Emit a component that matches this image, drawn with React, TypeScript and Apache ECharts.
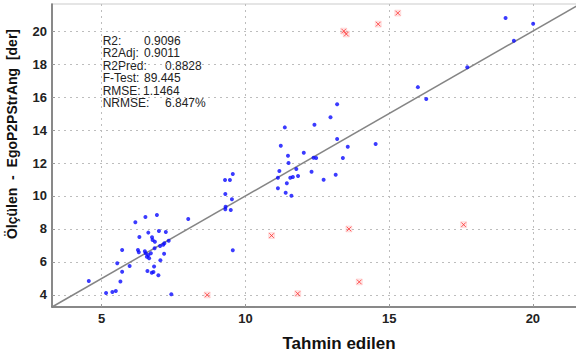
import React, { useEffect, useRef } from "react";
import * as echarts from "echarts";

// Fitted (blue) points: predicted (x) vs measured (y)
const blueX = [
  4.55, 5.15, 5.37, 5.49, 5.65, 5.71, 5.54, 5.71, 5.97, 6.17,
  6.52, 6.92, 6.31, 6.26, 6.29, 6.5, 6.62, 6.75, 6.77, 6.85,
  6.99, 7.23, 7.03, 7.14, 7.18, 7.33, 6.84, 6.71, 6.62, 6.57,
  6.65, 6.53, 7.17, 7.04, 6.82, 6.59, 6.74, 6.8, 6.97, 7.42,
  8.01, 9.29, 9.46, 9.56, 9.3, 9.53, 9.31, 9.3, 9.49, 9.56,
  11.18, 11.13, 11.44, 11.13, 11.4, 11.6, 11.5, 11.48, 11.23, 11.37,
  11.77, 11.56, 11.65, 11.83, 12.03, 12.37, 12.46, 12.3, 12.72, 12.4,
  12.96, 13.19, 13.19, 13.56, 13.39, 13.14, 14.53, 16.0, 16.29, 17.72,
  19.05, 19.34, 20.01,
];
const blueY = [
  4.85, 4.12, 4.18, 4.24, 4.81, 5.41, 5.92, 6.73, 5.76, 8.41,
  8.73, 8.85, 7.52, 6.73, 6.59, 6.65, 7.78, 7.5, 7.33, 7.23,
  7.88, 7.82, 6.97, 7.05, 7.13, 7.29, 6.83, 6.53, 6.42, 6.32,
  6.22, 6.53, 6.5, 6.1, 5.72, 5.45, 5.35, 5.39, 5.19, 4.04,
  8.61, 10.97, 10.97, 11.33, 10.12, 9.8, 9.35, 9.19, 9.15, 6.71,
  11.52, 11.11, 10.77, 10.47, 10.2, 10.02, 12.0, 12.44, 13.05, 14.16,
  11.64, 11.11, 11.15, 11.21, 12.62, 12.32, 12.3, 11.47, 10.99, 14.32,
  14.77, 15.56, 13.45, 12.99, 12.3, 11.29, 13.15, 16.6, 15.88, 17.8,
  20.79, 19.41, 20.44,
];

// Excluded (red) points
const redX = [15.3, 14.62, 13.42, 13.51, 10.91, 8.67, 11.82, 13.6, 17.59, 13.96];
const redY = [21.09, 20.42, 20.0, 19.82, 7.6, 4.0, 4.08, 8.0, 8.26, 4.79];

const xTicks = [5, 10, 15, 20];
const yTicks = [4, 6, 8, 10, 12, 14, 16, 18, 20];
const axisMin = 3.27;
const axisMax = 21.64;

const statLabels = ["R2:", "R2Adj:", "R2Pred:", "F-Test:", "RMSE:", "NRMSE:"];
const statValues = ["0.9096", "0.9011", "0.8828", "89.445", "1.1464", "6.847%"];
const statValueX = [144, 144, 165, 144, 143, 165];

const xTitle = "Tahmin edilen";
const yTitle = "Ölçülen  -  EgoP2PStrAng  [der]";

const FONT = "'Liberation Sans', Arial, sans-serif";

export default function App() {
  const ref = useRef<HTMLDivElement>(null);
  useEffect(() => {
    if (!ref.current) return;
    const chart = echarts.init(ref.current, null, { renderer: "svg" });
    const blue = blueX.map((x, i) => [x, blueY[i]]);
    const red = redX.map((x, i) => [x, redY[i]]);
    const axisCommon = (ticks: number[]) => ({
      type: "value" as const,
      min: axisMin,
      max: axisMax,
      axisLine: { show: true, onZero: false, lineStyle: { color: "#6a6a6a", width: 1.5 } },
      axisTick: { show: true, inside: true, length: 3, customValues: ticks, lineStyle: { color: "#999" } },
      axisLabel: {
        customValues: ticks,
        fontWeight: "bold",
        fontSize: 13,
        color: "#222",
        fontFamily: FONT,
        margin: 5,
      },
      splitLine: { show: true, lineStyle: { color: "#bdbdbd", width: 1, type: [2, 4] } },
    });
    const graphics: any[] = [];
    statLabels.forEach((l, i) => {
      const y = 40.7 + i * 12.5;
      graphics.push({
        type: "text",
        x: 102.7,
        y,
        style: { text: l, fontSize: 12, fontFamily: FONT, fill: "#222", verticalAlign: "middle" },
      });
      graphics.push({
        type: "text",
        x: statValueX[i],
        y,
        style: { text: statValues[i], fontSize: 12, fontFamily: FONT, fill: "#222", verticalAlign: "middle" },
      });
    });
    graphics.push({
      type: "text",
      x: 339,
      y: 343,
      style: {
        text: xTitle,
        fontSize: 17,
        fontWeight: "bold",
        fontFamily: FONT,
        fill: "#111",
        align: "center",
        verticalAlign: "middle",
      },
    });
    graphics.push({
      type: "text",
      x: 12,
      y: 134,
      rotation: Math.PI / 2,
      style: {
        text: yTitle,
        fontSize: 14,
        fontWeight: "bold",
        fontFamily: FONT,
        fill: "#111",
        align: "center",
        verticalAlign: "middle",
      },
    });
    chart.setOption({
      animation: false,
      backgroundColor: "#fff",
      grid: { left: 52, top: 4, right: 0, bottom: 50, show: true, borderColor: "#dddddd", borderWidth: 1.5 },
      xAxis: axisCommon(xTicks),
      yAxis: axisCommon(yTicks),
      graphic: graphics,
      series: [
        {
          type: "line",
          data: [
            [axisMin, axisMin],
            [axisMax, axisMax],
          ],
          showSymbol: false,
          lineStyle: { color: "#858585", width: 1.5 },
          z: 1,
          silent: true,
        },
        {
          type: "scatter",
          data: blue,
          symbol: "circle",
          symbolSize: 4,
          itemStyle: { color: "#0a0aff" },
          z: 3,
        },
        {
          type: "scatter",
          data: red,
          symbol: "path://M0 0H10V10H0Z",
          symbolSize: 6,
          itemStyle: { color: "rgba(255,160,160,0.3)", borderColor: "rgba(255,120,120,0.45)", borderWidth: 0.5 },
          z: 3,
        },
        {
          type: "scatter",
          data: red,
          symbol: "path://M0 0L10 10M10 0L0 10",
          symbolSize: 4.5,
          itemStyle: { color: "rgba(0,0,0,0)", borderColor: "#ff2a2a", borderWidth: 1 },
          z: 4,
        },
      ],
    });
    return () => chart.dispose();
  }, []);
  return (
    <div
      style={{
        position: "absolute",
        left: 0,
        top: 0,
        width: 576,
        height: 357,
        overflow: "hidden",
        background: "#fff",
      }}
    >
      <div ref={ref} style={{ width: 580, height: 357 }} />
    </div>
  );
}
